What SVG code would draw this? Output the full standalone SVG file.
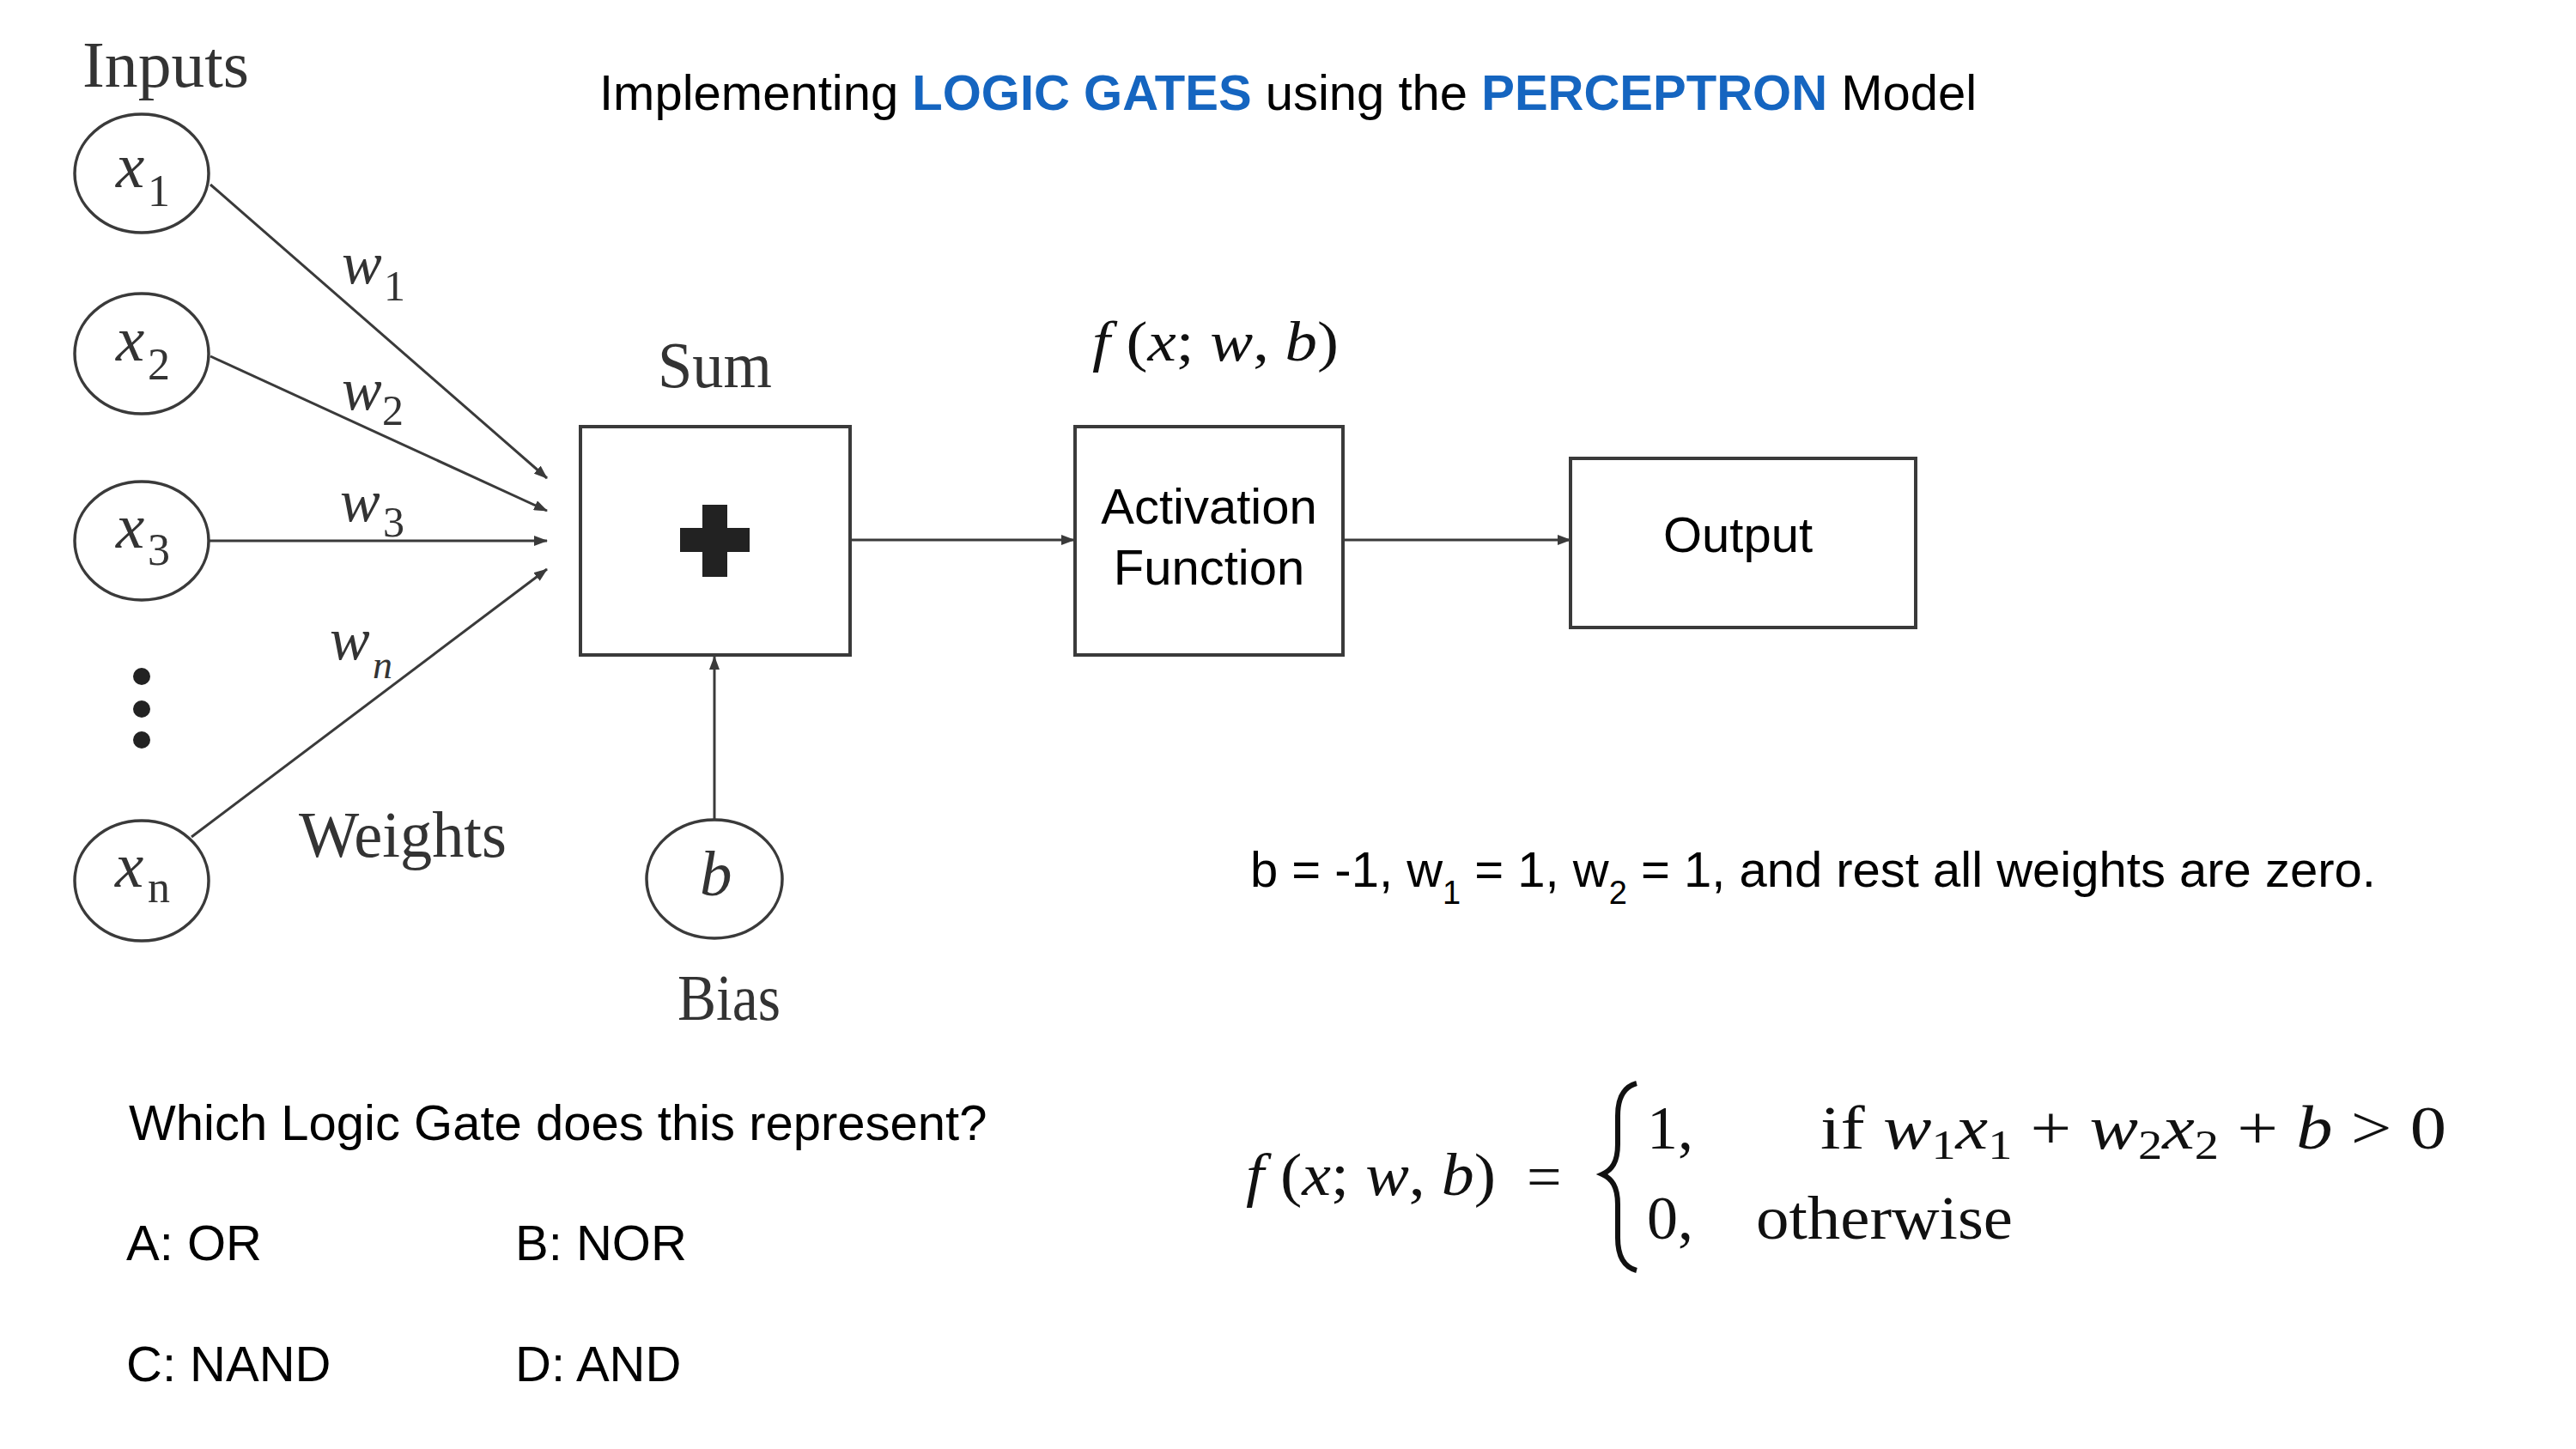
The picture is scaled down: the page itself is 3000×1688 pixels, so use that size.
<svg xmlns="http://www.w3.org/2000/svg" width="3000" height="1688" viewBox="0 0 3000 1688">
<defs>
<style>
.sans{font-family:"Liberation Sans",Arial,sans-serif;fill:#000;font-size:58px}
.blue{fill:#1565c0;font-weight:bold}
.fig{font-family:"Liberation Serif","Times New Roman",serif;fill:#333}
.it{font-style:italic}
.node{fill:#fff;stroke:#3a3a3a;stroke-width:3.5}
.box{fill:#fff;stroke:#3a3a3a;stroke-width:4}
.conn{stroke:#3a3a3a;stroke-width:3;fill:none}
.math{font-family:"Liberation Serif","Times New Roman",serif;fill:#111}
</style>
<marker id="ah" markerUnits="userSpaceOnUse" markerWidth="16" markerHeight="12" refX="15" refY="6" orient="auto">
<path d="M0,0 L16,6 L0,12 z" fill="#3a3a3a"/>
</marker>
</defs>
<rect width="3000" height="1688" fill="#fff"/>

<text id="title" class="sans" x="698" y="128">Implementing <tspan class="blue">LOGIC GATES</tspan> using the <tspan class="blue">PERCEPTRON</tspan> Model</text>

<text id="inputs-label" class="fig" x="96" y="101" font-size="76" textLength="194" lengthAdjust="spacingAndGlyphs">Inputs</text>
<text id="sum-label" class="fig" x="766" y="451" font-size="76" textLength="133" lengthAdjust="spacingAndGlyphs">Sum</text>
<text id="weights-label" class="fig" x="348" y="998" font-size="76" textLength="242" lengthAdjust="spacingAndGlyphs">Weights</text>
<text id="bias-label" class="fig" x="789" y="1188" font-size="76" textLength="120" lengthAdjust="spacingAndGlyphs">Bias</text>

<g id="connectors">
<line class="conn" x1="245" y1="215" x2="637" y2="557" marker-end="url(#ah)"/>
<line class="conn" x1="245" y1="415" x2="637" y2="595" marker-end="url(#ah)"/>
<line class="conn" x1="244" y1="630" x2="637" y2="630" marker-end="url(#ah)"/>
<line class="conn" x1="223" y1="975" x2="637" y2="663" marker-end="url(#ah)"/>
<line class="conn" x1="832" y1="955" x2="832" y2="765" marker-end="url(#ah)"/>
<line class="conn" x1="990" y1="629" x2="1251" y2="629" marker-end="url(#ah)"/>
<line class="conn" x1="1564" y1="629" x2="1829" y2="629" marker-end="url(#ah)"/>
</g>

<g id="weight-labels">
<text class="fig" font-size="70"><tspan class="it" x="398" y="330">w</tspan><tspan x="447" y="350" font-size="50">1</tspan></text>
<text class="fig" font-size="70"><tspan class="it" x="398" y="477">w</tspan><tspan x="445" y="495" font-size="50">2</tspan></text>
<text class="fig" font-size="70"><tspan class="it" x="396" y="607">w</tspan><tspan x="446" y="625" font-size="50">3</tspan></text>
<text class="fig" font-size="70"><tspan class="it" x="384" y="768">w</tspan><tspan class="it" x="434" y="790" font-size="46">n</tspan></text>
</g>

<g id="node-x1">
<ellipse class="node" cx="165" cy="202" rx="78" ry="69"/>
<text class="fig" font-size="75"><tspan class="it" x="135" y="218">x</tspan><tspan x="172" y="240" font-size="52">1</tspan></text>
</g>
<g id="node-x2">
<ellipse class="node" cx="165" cy="412" rx="78" ry="70"/>
<text class="fig" font-size="75"><tspan class="it" x="135" y="420">x</tspan><tspan x="172" y="442" font-size="52">2</tspan></text>
</g>
<g id="node-x3">
<ellipse class="node" cx="165" cy="630" rx="78" ry="69"/>
<text class="fig" font-size="75"><tspan class="it" x="135" y="638">x</tspan><tspan x="172" y="658" font-size="52">3</tspan></text>
</g>
<g id="dots" fill="#222">
<circle cx="165" cy="788" r="10"/>
<circle cx="165" cy="826" r="10"/>
<circle cx="165" cy="862" r="10"/>
</g>
<g id="node-xn">
<ellipse class="node" cx="165" cy="1026" rx="78" ry="70"/>
<text class="fig" font-size="75"><tspan class="it" x="134" y="1033">x</tspan><tspan x="172" y="1051" font-size="52">n</tspan></text>
</g>
<g id="node-bias">
<ellipse class="node" cx="832" cy="1024" rx="79" ry="69"/>
<text class="fig it" x="815" y="1043" font-size="75">b</text>
</g>

<g id="node-sum">
<rect class="box" x="676" y="497" width="314" height="266"/>
<rect x="818" y="588" width="29" height="84" fill="#222"/>
<rect x="792" y="615" width="81" height="28" fill="#222"/>
</g>

<g id="node-activation">
<rect class="box" x="1252" y="497" width="312" height="266"/>
<text class="sans" x="1408" y="610" text-anchor="middle">Activation</text>
<text class="sans" x="1408" y="681" text-anchor="middle">Function</text>
</g>
<text id="activation-formula" class="math" x="1272" y="420" font-size="66" textLength="287" lengthAdjust="spacingAndGlyphs"><tspan class="it">f</tspan> (<tspan class="it">x</tspan>; <tspan class="it">w</tspan>, <tspan class="it">b</tspan>)</text>

<g id="node-output">
<rect class="box" x="1829" y="534" width="402" height="197"/>
<text class="sans" x="1937" y="643">Output</text>
</g>

<text id="params" class="sans" x="1456" y="1033">b = -1, w<tspan dy="20" font-size="38">1</tspan><tspan dy="-20"> = 1, w</tspan><tspan dy="20" font-size="38">2</tspan><tspan dy="-20"> = 1, and rest all weights are zero.</tspan></text>

<g id="question">
<text class="sans" x="150" y="1328">Which Logic Gate does this represent?</text>
<text class="sans" x="147" y="1468">A: OR</text>
<text class="sans" x="600" y="1468">B: NOR</text>
<text class="sans" x="147" y="1609">C: NAND</text>
<text class="sans" x="600" y="1609">D: AND</text>
</g>

<g id="formula">
<text class="math" x="1451" y="1392" font-size="70" textLength="291" lengthAdjust="spacingAndGlyphs"><tspan class="it">f</tspan> (<tspan class="it">x</tspan>; <tspan class="it">w</tspan>, <tspan class="it">b</tspan>)</text>
<text class="math" x="1778" y="1395" font-size="72">=</text>
<path d="M1906,1262 C1891,1266 1884,1280 1884,1300 L1884,1333 C1884,1354 1877,1363 1866,1368 C1877,1373 1884,1382 1884,1403 L1884,1442 C1884,1462 1891,1476 1906,1480" fill="none" stroke="#111" stroke-width="6"/>
<text class="math" x="1918" y="1338" font-size="72">1,</text>
<text class="math" x="2120" y="1338" font-size="72" textLength="729" lengthAdjust="spacingAndGlyphs">if <tspan class="it">w</tspan><tspan dy="12" font-size="48">1</tspan><tspan class="it" dy="-12">x</tspan><tspan dy="12" font-size="48">1</tspan><tspan dy="-12"> + </tspan><tspan class="it">w</tspan><tspan dy="12" font-size="48">2</tspan><tspan class="it" dy="-12">x</tspan><tspan dy="12" font-size="48">2</tspan><tspan dy="-12"> + </tspan><tspan class="it">b</tspan> &gt; 0</text>
<text class="math" x="1918" y="1443" font-size="72">0,</text>
<text class="math" x="2045" y="1443" font-size="72" textLength="299" lengthAdjust="spacingAndGlyphs">otherwise</text>
</g>
</svg>
